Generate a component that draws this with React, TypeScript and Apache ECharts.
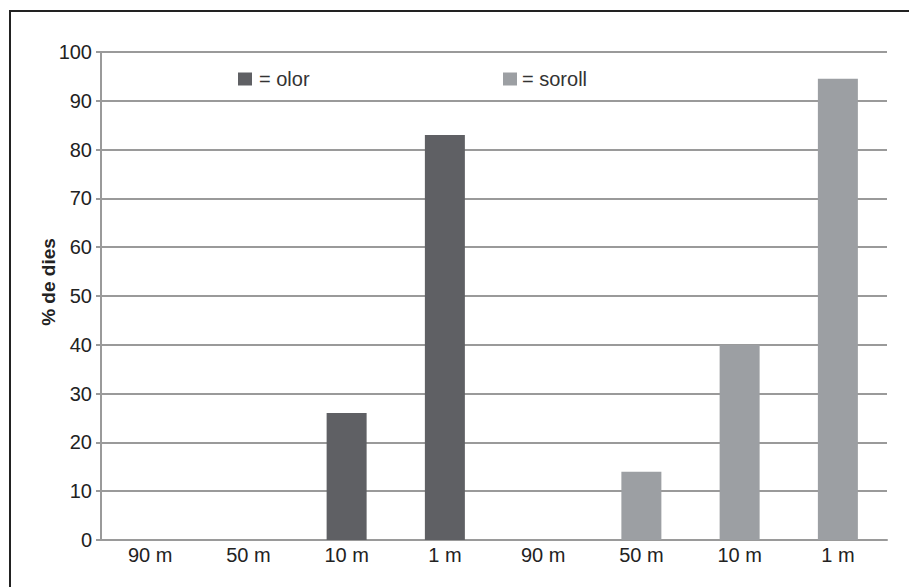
import React, { useEffect, useRef } from "react";
import * as echarts from "echarts";

const categories = ["90 m", "50 m", "10 m", "1 m", "90 m", "50 m", "10 m", "1 m"];
const olorValues = [0, 0, 26, 83, null, null, null, null];
const sorollValues = [null, null, null, null, 0, 14, 40, 94.5];
const yTicks = { min: 0, max: 100, interval: 10 };
const yAxisTitle = "% de dies";
const seriesNames = ["olor", "soroll"];

export default function App() {
  const ref = useRef<HTMLDivElement>(null);
  useEffect(() => {
    if (!ref.current) return;
    const chart = echarts.init(ref.current, null, { renderer: "svg" });
    const font = "'Liberation Sans', Arial, sans-serif";
    chart.setOption({
      animation: false,
      backgroundColor: "#ffffff",
      grid: { left: 101, right: 22, top: 52, bottom: 47, containLabel: false },
      legend: [
        {
          data: [seriesNames[0]],
          left: 233,
          top: 64,
          icon: "rect",
          itemWidth: 14,
          itemHeight: 13,
          formatter: "= {name}",
          textStyle: { fontSize: 20, color: "#333", fontFamily: font, padding: [0, 0, 0, 2] },
        },
        {
          data: [seriesNames[1]],
          left: 498,
          top: 64,
          icon: "rect",
          itemWidth: 14,
          itemHeight: 13,
          formatter: "= {name}",
          textStyle: { fontSize: 20, color: "#333", fontFamily: font, padding: [0, 0, 0, 0] },
        },
      ],
      xAxis: {
        type: "category",
        data: categories,
        axisLine: { show: true, lineStyle: { color: "#9a9a9a", width: 2 } },
        axisTick: { show: false },
        axisLabel: { fontSize: 20, color: "#222", fontFamily: font, margin: 5 },
      },
      yAxis: {
        type: "value",
        min: yTicks.min,
        max: yTicks.max,
        interval: yTicks.interval,
        axisLine: { show: true, lineStyle: { color: "#9a9a9a", width: 2 } },
        axisTick: { show: true, length: 5, lineStyle: { color: "#9a9a9a", width: 2 } },
        axisLabel: { fontSize: 20, color: "#222", fontFamily: font, margin: 9 },
        splitLine: { show: true, lineStyle: { color: "#9a9a9a", width: 2 } },
      },
      series: [
        {
          name: seriesNames[0],
          type: "bar",
          stack: "a",
          barWidth: 40,
          data: olorValues,
          itemStyle: { color: "#5f6064" },
        },
        {
          name: seriesNames[1],
          type: "bar",
          stack: "a",
          barWidth: 40,
          data: sorollValues,
          itemStyle: { color: "#9c9fa3" },
        },
      ],
      graphic: [
        {
          type: "rect",
          shape: { x: 10, y: 11, width: 940, height: 640 },
          style: { fill: "none", stroke: "#222", lineWidth: 2 },
          silent: true,
          z: 100,
        },
        {
          type: "text",
          x: 48,
          y: 282,
          rotation: Math.PI / 2,
          style: {
            text: yAxisTitle,
            fontSize: 19,
            fontWeight: "bold",
            fontFamily: font,
            fill: "#222",
            align: "center",
            verticalAlign: "middle",
          },
        },
      ],
    });
    return () => chart.dispose();
  }, []);
  return (
    <div
      ref={ref}
      style={{ position: "fixed", left: 0, top: 0, width: 909, height: 587 }}
    />
  );
}
